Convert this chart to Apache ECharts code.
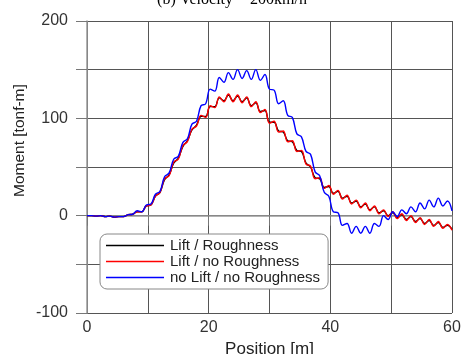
<!DOCTYPE html>
<html>
<head>
<meta charset="utf-8">
<script src="https://cdn.jsdelivr.net/npm/echarts@6/dist/echarts.min.js"></script>
<style>html,body{margin:0;padding:0;background:#fff}#c{width:464px;height:354px}</style>
</head>
<body>
<div id="c"></div>
<script>
const positions = [0,0.75,1.5,2.25,3,3.75,4.5,5.25,6,6.75,7.5,8.25,9,9.75,10.5,11.25,12,12.75,13.5,14.25,15,15.75,16.5,17.25,18,18.75,19.5,20.25,21,21.75,22.5,23.25,24,24.75,25.5,26.25,27,27.75,28.5,29.25,30,30.75,31.5,32.25,33,33.75,34.5,35.25,36,36.75,37.5,38.25,39,39.75,40.5,41.25,42,42.75,43.5,44.25,45,45.75,46.5,47.25,48,48.75,49.5,50.25,51,51.75,52.5,53.25,54,54.75,55.5,56.25,57,57.75,58.5,59.25,60];

const liftRoughness = [0,0,-0.5,0,-1,-0.5,-1.5,-1,-1,1,1.5,4,4,10,11,20,24,37,42,54,59,71,77,88,93,102,102,112,112,121,118,124,118,123,117,121,113,116,107,108,96,96,87,86,77,76,67,66,54,50,39,38,29,30,23,25,18,20,13,15,9,12,6,9,3,5,0,3,-2,1,-4,-1,-6,-3,-8,-5,-10,-7,-12,-10,-14];
const liftNoRoughness = [0,0,-0.5,0,-1,-0.5,-1.5,-1,-1,1,1.5,4,4,10,11,20,24,38,41,55,58,72,76,89,92,103,101,113,111,122,117,125,117,124,116,122,112,117,106,109,95,97,86,87,76,77,66,67,53,51,38,39,28,31,22,26,17,21,12,16,8,13,5,10,2,6,-1,4,-3,2,-5,0,-7,-2,-9,-4,-11,-6,-13,-9,-15];
const noLiftNoRoughness = [0,0,-0.5,0,-1,-0.5,-1.5,-1,-1,1,1.5,5,4,11,12,22,25,40,44,58,61,75,79,94,97,113,115,130,128,142,137,147,140,150,141,149,140,150,139,145,130,129,115,118,103,101,84,81,66,63,45,41,24,20,4,3,-10,-8,-18,-11,-18,-11,-18,-8,-11,0,-4,4,-1,6,2,9,4,13,7,16,9,18,10,15,5];

const seriesNames = ['Lift / Roughness','Lift / no Roughness','no Lift / no Roughness'];
const seriesColors = ['#000000','#ff0000','#0000ff'];
const seriesData = [liftRoughness, liftNoRoughness, noLiftNoRoughness];

const FONT = '"Liberation Sans", Arial, sans-serif';
const chart = echarts.init(document.getElementById('c'));
chart.setOption({
  animation:false,
  backgroundColor:'#fff',
  grid:{left:87,right:12,top:21,bottom:41,containLabel:false,outerBoundsMode:'none'},
  graphic:[
    {type:'text',left:'center',top:-8,style:{text:'(b) Velocity = 200km/h',font:'16px "Liberation Serif", serif',fill:'#000'}},
    {type:'text',x:12,y:197,rotation:Math.PI/2,style:{text:'Moment [tonf-m]',font:'15.5px '+FONT,fill:'#222'}}
  ],
  legend:{
    orient:'vertical',left:100,top:234,
    padding:[4,8,4,6],itemGap:1,itemWidth:58,itemHeight:1.5,icon:'rect',
    borderColor:'#888',borderWidth:1,borderRadius:7,backgroundColor:'#fff',
    textStyle:{fontFamily:FONT,fontSize:15,color:'#222',padding:[0,0,0,1]},
    data:seriesNames
  },
  xAxis:{
    type:'value',min:0,max:60,interval:10,
    name:'Position [m]',nameLocation:'middle',nameGap:25,
    nameTextStyle:{fontFamily:FONT,fontSize:17,color:'#222'},
    axisLine:{lineStyle:{color:'#999',width:1.5}},
    axisTick:{inside:false,length:10,lineStyle:{color:'#777'}},
    axisLabel:{margin:7,fontFamily:FONT,fontSize:16,color:'#333',
      formatter:v=>(v%20===0?String(v):'')},
    splitLine:{show:true,lineStyle:{color:'#555',width:1}}
  },
  yAxis:{
    type:'value',min:-100,max:200,interval:50,
    axisLine:{show:true,lineStyle:{color:'#999',width:1.5}},
    axisTick:{show:true,inside:false,length:11,lineStyle:{color:'#777'}},
    axisLabel:{margin:19,fontFamily:FONT,fontSize:16,color:'#333',
      formatter:v=>(v%100===0?String(v):'')},
    splitLine:{show:true,lineStyle:{color:'#555',width:1}}
  },
  series:seriesNames.map((n,i)=>({
    name:n,type:'line',symbol:'none',smooth:0.4,
    lineStyle:{color:seriesColors[i],width:1.4},itemStyle:{color:seriesColors[i]},
    data:positions.map((x,j)=>[x,seriesData[i][j]])
  }))
});
</script>
</body>
</html>
